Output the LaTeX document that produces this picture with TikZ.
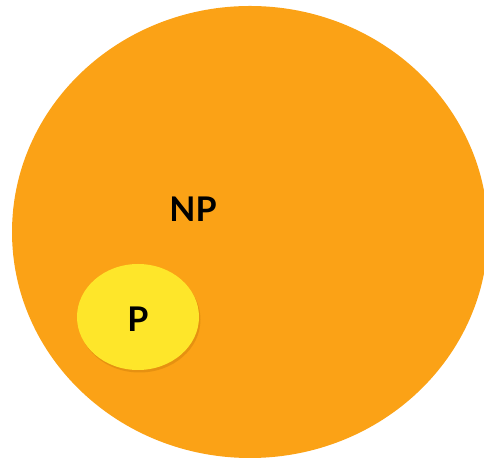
\documentclass[tikz,border=0pt]{standalone}
\usepackage{fontspec}
\setmainfont{Lato}[BoldFont={Lato Bold}]
\usetikzlibrary{shapes.geometric}
\definecolor{npor}{RGB}{251,162,22}
\definecolor{pyel}{RGB}{254,230,42}
\definecolor{shad}{RGB}{200,120,10}
\begin{document}
\begin{tikzpicture}[x=1pt,y=1pt,
  lbl/.style={font=\bfseries\fontsize{34}{40}\selectfont, text=black, inner sep=0}]
\useasboundingbox (0,0) rectangle (484,462);
\begin{scope}
\clip (0,0) rectangle (484,462);
\node[ellipse, fill=npor, minimum width=476, minimum height=452, inner sep=0] (np) at (250,230) {};
\end{scope}
\node[ellipse, fill=shad, opacity=0.4, minimum width=122, minimum height=106, inner sep=0] (psh) at (139.5,142.5) {};
\node[ellipse, fill=pyel, minimum width=122, minimum height=106, inner sep=0] (p) at (138,145) {};
\node[lbl] (nplabel) at (193,253) {NP};
\node[lbl] (plabel) at (138,143) {P};
\end{tikzpicture}
\end{document}
